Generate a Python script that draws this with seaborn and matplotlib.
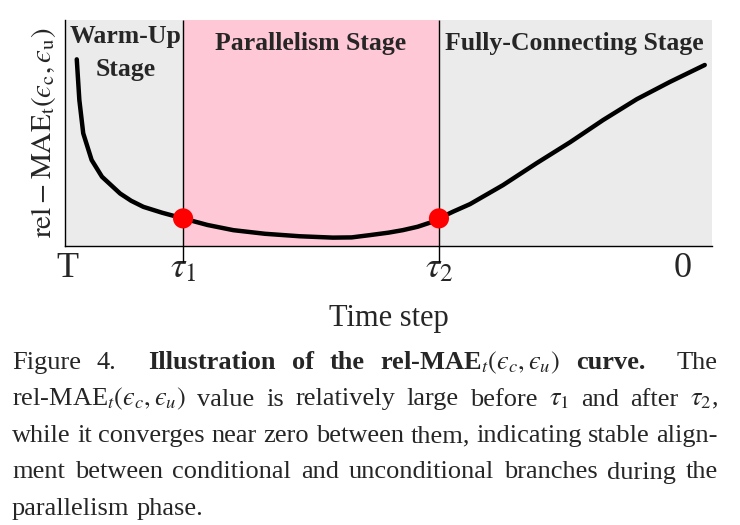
import matplotlib
matplotlib.use("Agg")
import matplotlib.pyplot as plt
import seaborn as sns
import pandas as pd

# curve (x: 0 = T on the left, 100 = right edge)
x_vals = [1.8, 2.2, 2.8, 4.1, 5.7, 8.5, 10.2, 12.1, 15.0, 18.24, 22.0, 26.0, 30.9, 36.3, 41.4,
          44.3, 47.1, 50.0, 52.2, 54.5, 56.4, 57.8, 60.0, 62.6, 67.7, 72.9, 78.1, 83.2,
          88.4, 93.5, 98.9]
y_vals = [82.6, 64.6, 49.9, 38.1, 30.7, 23.3, 20.1, 17.4, 14.8, 12.3, 9.4, 7.1, 5.5, 4.4, 3.8,
          3.9, 4.9, 6.0, 7.1, 8.6, 10.4, 12.3, 15.3, 18.6, 27.0, 36.7, 46.0, 55.8,
          65.0, 72.6, 80.1]

tau1, tau2 = 18.24, 57.8
dot_x = [tau1, tau2]
dot_y = [12.3, 12.3]

tick_pos = [0.3, tau1, tau2, 95.5]
tick_labels = ["T", r"$\tau_1$", r"$\tau_2$", "0"]

stages = ["Warm-Up", "Parallelism Stage", "Fully-Connecting Stage"]

eps = "\u03f5"  # lunate epsilon
rel_mae = "rel-MAE$_t(" + eps + "_c, " + eps + "_u)$"
# (word, bold, gap weight after)
caption = [
    [("Figure", 0, 1), ("4.", 0, 2), ("Illustration", 1, 1), ("of", 1, 1), ("the", 1, 1),
     (rel_mae, 1, 1), ("curve.", 1, 2), ("The", 0, 1)],
    [(rel_mae, 0, 1), ("value", 0, 1), ("is", 0, 1),
     ("relatively", 0, 1), ("large", 0, 1), ("before", 0, 1), (r"$\tau_1$", 0, 1),
     ("and", 0, 1), ("after", 0, 1), (r"$\tau_2$,", 0, 1)],
    [("while it converges near zero between them, indicating stable align-", 0, 1)],
    [("ment between conditional and unconditional branches during the", 0, 1)],
    [("parallelism phase.", 0, 1)],
]

sns.set_theme(style="white")
plt.rcParams["font.family"] = ["Liberation Serif", "DejaVu Serif"]
plt.rcParams["mathtext.fontset"] = "stix"

fig = plt.figure(figsize=(7.4, 5.25), dpi=100)
ax = fig.add_axes([0.088, 0.531, 0.874, 0.431])

gray = "#ebebeb"
pink = "#ffc8d6"
ax.axvspan(0, tau1, color=gray, lw=0)
ax.axvspan(tau1, tau2, color=pink, lw=0)
ax.axvspan(tau2, 100, color=gray, lw=0)
ax.vlines([tau1, tau2], -7, 100, color="black", lw=1, clip_on=False)

df = pd.DataFrame({"t": x_vals, "v": y_vals})
sns.lineplot(data=df, x="t", y="v", color="black", lw=3.2, sort=False, ax=ax)
sns.scatterplot(x=dot_x, y=dot_y, color="red", s=210, edgecolor="none", zorder=5, ax=ax)

ax.set_xlim(0, 100)
ax.set_ylim(0, 100)
ax.set_xticks(tick_pos)
ax.set_xticklabels(tick_labels, fontsize=26)
ax.tick_params(axis="x", length=0, pad=4)
ax.set_yticks([])
ax.set_xlabel("Time step", fontsize=22, labelpad=14)
ylab = (r"$\mathrm{rel} - \mathrm{MAE}_\mathrm{t}(" + eps + r"_\mathrm{c}, "
        + eps + r"_\mathrm{u})$")
ax.set_ylabel(ylab, fontsize=21, labelpad=5)
sns.despine(ax=ax)
for s in ["left", "bottom"]:
    ax.spines[s].set_color("black")
    ax.spines[s].set_linewidth(1)

tkw = dict(fontsize=18.5, fontweight="bold", ha="center", va="center")
ax.text(9.3, 92.5, stages[0], **tkw)
ax.text(9.3, 77.9, "Stage", **tkw)
ax.text(38.0, 89.8, stages[1], **tkw)
ax.text(78.8, 89.8, stages[2], **tkw)

# caption, justified line by line
cap_fs = 19
x0, x1 = 12 / 740, 718 / 740
renderer = fig.canvas.get_renderer()
base = 369
for i, line in enumerate(caption):
    y = 1 - (base + i * 36.5) / 525
    items, weights = [], []
    for s, b, g in line:
        words = s.split(" ") if len(line) == 1 else [s]
        for w in words:
            items.append(fig.text(0, y, w, fontsize=cap_fs, va="baseline", ha="left",
                                  fontweight="bold" if b else "normal"))
            weights.append(g)
    widths = [t.get_window_extent(renderer).width / 740 for t in items]
    if i < len(caption) - 1:
        unit = (x1 - x0 - sum(widths)) / sum(weights[:-1])
    else:
        unit = 0.25 * cap_fs * 100 / 72 / 740
    xp = x0
    for t, w, g in zip(items, widths, weights):
        t.set_x(xp)
        xp += w + unit * g

fig.savefig("out.png", dpi=100)
